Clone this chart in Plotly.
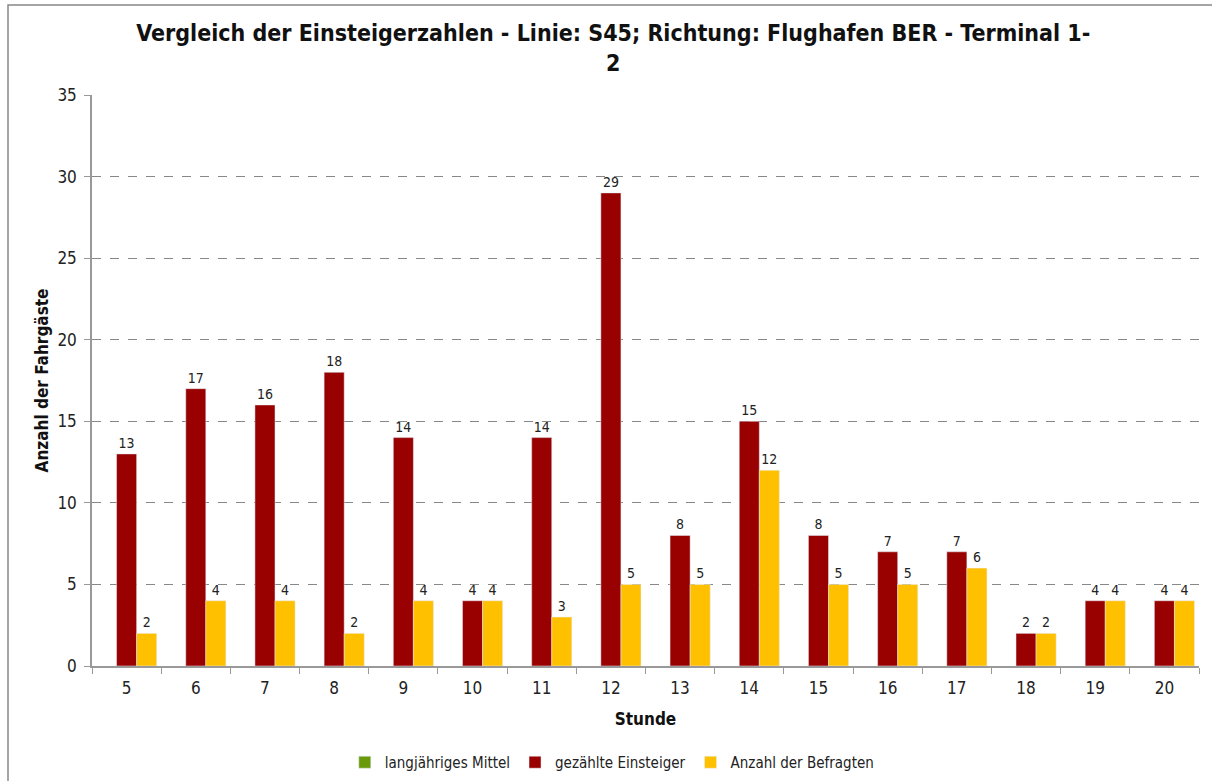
import plotly.graph_objects as go

stunden = ["5", "6", "7", "8", "9", "10", "11", "12", "13", "14", "15", "16", "17", "18", "19", "20"]
mittel = [None] * 16
einsteiger = [13, 17, 16, 18, 14, 4, 14, 29, 8, 15, 8, 7, 7, 2, 4, 4]
befragte = [2, 4, 4, 2, 4, 4, 3, 5, 5, 12, 5, 5, 6, 2, 4, 4]

FONT = "DejaVu Sans Condensed"
lab_font = dict(family=FONT, size=14, color="#222")

fig = go.Figure()
fig.add_trace(go.Bar(x=stunden, y=mittel, name="langjähriges Mittel",
                     marker=dict(color="#6a9a0a")))
fig.add_trace(go.Bar(x=stunden, y=einsteiger, name="gezählte Einsteiger",
                     marker=dict(color="#990000"),
                     text=einsteiger, textposition="outside", textfont=lab_font,
                     cliponaxis=False))
fig.add_trace(go.Bar(x=stunden, y=befragte, name="Anzahl der Befragten",
                     marker=dict(color="#ffc000"),
                     text=befragte, textposition="outside", textfont=lab_font,
                     cliponaxis=False))

L, R, T, B = 92, 13, 95, 115
W, H = 1212, 781
pw, ph = W - L - R, H - T - B

def px(x):
    return (x - L) / pw

def py(y):
    return (H - B - y) / ph

fig.update_layout(
    width=W, height=H,
    margin=dict(l=L, r=R, t=T, b=B, autoexpand=False),
    paper_bgcolor="white", plot_bgcolor="white",
    barmode="group", bargap=0.13, bargroupgap=0,
    font=dict(family=FONT, color="#222"),
    title=dict(text="Vergleich der Einsteigerzahlen - Linie: S45; Richtung: Flughafen BER - Terminal 1-<br>2",
               x=0.506, xanchor="center", y=0.948, yanchor="top",
               font=dict(family=FONT, size=23, color="#111", weight="bold")),
    xaxis=dict(title=dict(text="Stunde", font=dict(family=FONT, size=17, color="#111", weight="bold"), standoff=16),
               tickfont=dict(family=FONT, size=17, color="#222"), ticklabelstandoff=6,
               showline=True, linecolor="#999", linewidth=1.5,
               ticks="outside", tickson="boundaries", ticklen=6, tickcolor="#999",
               showgrid=False, automargin=False),
    yaxis=dict(title=dict(text="Anzahl der Fahrgäste", font=dict(family=FONT, size=17, color="#111", weight="bold"), standoff=4),
               tickfont=dict(family=FONT, size=17, color="#222"), ticklabelstandoff=4,
               range=[0, 35], dtick=5,
               showline=True, linecolor="#999", linewidth=1.5,
               ticks="outside", ticklen=6, tickcolor="#999",
               showgrid=True, gridcolor="#888", griddash="dash", gridwidth=1,
               zeroline=False, automargin=False),
    legend=dict(orientation="h", x=0.47, xanchor="center", y=-0.14, yanchor="top",
                font=dict(family=FONT, size=15, color="#222"),
                bgcolor="rgba(0,0,0,0)", itemwidth=30, traceorder="normal"),
    shapes=[dict(type="rect", xref="paper", yref="paper",
                 x0=px(8), x1=px(1230), y0=py(800), y1=py(5),
                 line=dict(color="#888", width=1.5), layer="below")],
)

fig.write_html("out.html", config={"displayModeBar": False},
               post_script="document.body.style.margin='0';")
